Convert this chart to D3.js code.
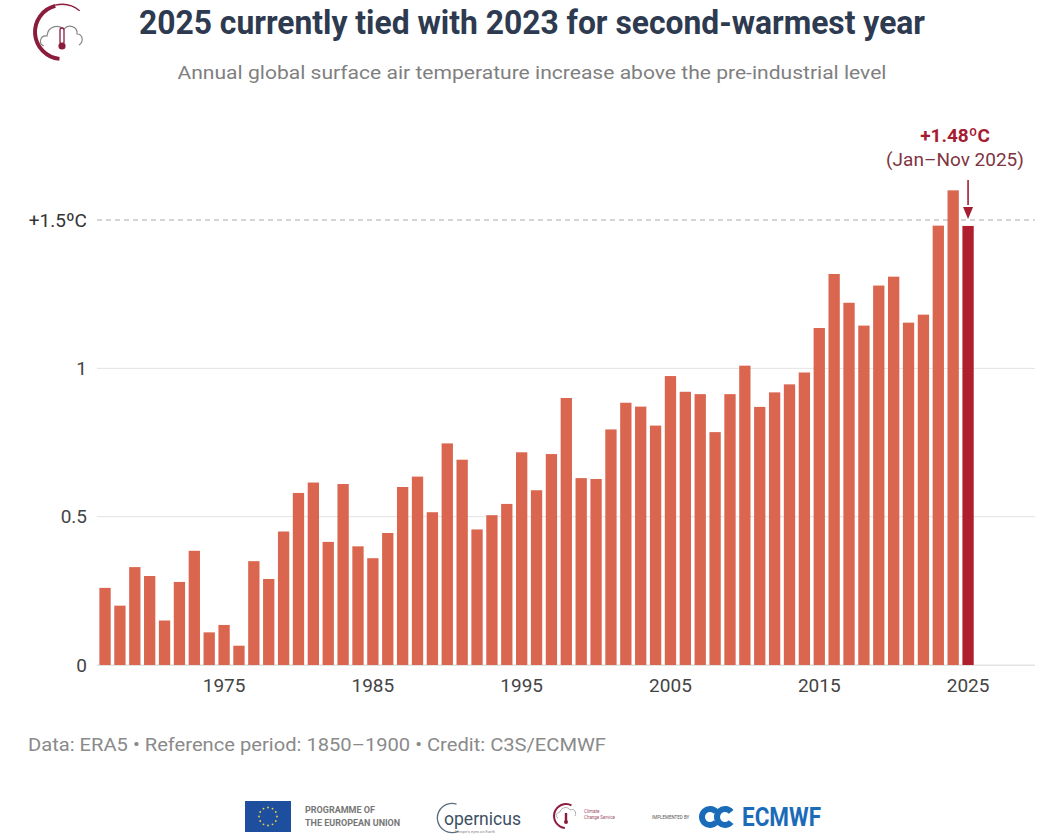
<!DOCTYPE html>
<html>
<head>
<meta charset="utf-8">
<script src="https://cdn.jsdelivr.net/npm/d3@7"></script>
<style>
  body { margin: 0; background: #fff; }
  text { font-family: Roboto, "Noto Sans", sans-serif; }
</style>
</head>
<body>
<div id="chart"></div>
<script>
// data
const years = d3.range(1967, 2026);
const anomalies = [
  0.26, 0.20, 0.33, 0.30, 0.15, 0.28, 0.385, 0.11, 0.135, 0.065,
  0.35, 0.29, 0.45, 0.58, 0.615, 0.415, 0.61, 0.40, 0.36, 0.445,
  0.60, 0.635, 0.515, 0.747, 0.692, 0.457, 0.505, 0.543, 0.717, 0.589,
  0.711, 0.90, 0.63, 0.627, 0.794, 0.884, 0.871, 0.807, 0.974, 0.921,
  0.913, 0.785, 0.913, 1.009, 0.87, 0.919, 0.946, 0.986, 1.136, 1.318,
  1.221, 1.144, 1.279, 1.309, 1.154, 1.181, 1.481, 1.60, 1.48
];
const xTickYears = [1975, 1985, 1995, 2005, 2015, 2025];
const yTicks = [0, 0.5, 1];
const yTickLabels = ["0", "0.5", "1"];
const limitValue = 1.5;
const limitLabel = "+1.5ºC";
const highlightYear = 2025;
const highlightLabel = "+1.48ºC";
const highlightNote = "(Jan\u2013Nov 2025)";

const W = 1063, H = 837;
const plot = { left: 97, right: 1035, top: 200, bottom: 665 };

const svg = d3.select("#chart")
  .append("svg")
  .attr("width", W)
  .attr("height", H);

const data = years.map((y, i) => ({ year: y, value: anomalies[i] }));

// scales
const x = d3.scaleBand()
  .domain(years)
  .range([97.6, 975.5])
  .paddingInner(0.24)
  .paddingOuter(0.12);

const y = d3.scaleLinear()
  .domain([0, 1.5])
  .range([plot.bottom, 220]);

// gridlines
svg.append("g")
  .selectAll("line")
  .data(yTicks)
  .join("line")
  .attr("x1", plot.left)
  .attr("x2", plot.right)
  .attr("y1", d => y(d))
  .attr("y2", d => y(d))
  .attr("stroke", "#e3e3e3")
  .attr("stroke-width", 1);

svg.append("line")
  .attr("x1", plot.left)
  .attr("x2", plot.right)
  .attr("y1", y(limitValue))
  .attr("y2", y(limitValue))
  .attr("stroke", "#aaaaaa")
  .attr("stroke-dasharray", "5,4")
  .attr("stroke-width", 1);

// y labels
svg.append("g")
  .selectAll("text")
  .data(yTicks)
  .join("text")
  .attr("x", 87)
  .attr("y", d => y(d))
  .attr("dy", "0.35em")
  .attr("text-anchor", "end")
  .style("font-size", "19px")
  .style("fill", "#444")
  .text((d, i) => yTickLabels[i]);

svg.append("text")
  .attr("x", 87)
  .attr("y", y(limitValue))
  .attr("dy", "0.35em")
  .attr("text-anchor", "end")
  .style("font-size", "19px")
  .style("fill", "#333")
  .text(limitLabel);

// bars
svg.append("g")
  .selectAll("rect")
  .data(data)
  .join("rect")
  .attr("x", d => x(d.year))
  .attr("y", d => y(d.value))
  .attr("width", x.bandwidth())
  .attr("height", d => y(0) - y(d.value))
  .attr("fill", d => d.year === highlightYear ? "#b01f2e" : "#da6650");

// x axis
const xAxis = svg.append("g")
  .attr("transform", `translate(0,${plot.bottom})`)
  .call(d3.axisBottom(x).tickValues(xTickYears).tickSize(0).tickPadding(14));
xAxis.select(".domain").remove();
xAxis.selectAll("text")
  .style("font-family", "Roboto, sans-serif")
  .style("font-size", "19px")
  .style("fill", "#444");
svg.append("line")
  .attr("x1", plot.left)
  .attr("x2", plot.right)
  .attr("y1", plot.bottom + 0.5)
  .attr("y2", plot.bottom + 0.5)
  .attr("stroke", "#e3e3e3");

// annotation for 2025
const hx = x(highlightYear) + x.bandwidth() / 2;
const hv = anomalies[years.indexOf(highlightYear)];
svg.append("text")
  .attr("x", 955)
  .attr("y", 142)
  .attr("text-anchor", "middle")
  .style("font-size", "19px")
  .style("font-weight", "bold")
  .style("fill", "#a51d30")
  .text(highlightLabel);
svg.append("text")
  .attr("x", 955)
  .attr("y", 166)
  .attr("text-anchor", "middle")
  .style("font-size", "19px")
  .style("fill", "#7e3442")
  .text(highlightNote);
svg.append("line")
  .attr("x1", hx).attr("x2", hx)
  .attr("y1", 180).attr("y2", 205)
  .attr("stroke", "#a51d30")
  .attr("stroke-width", 1.6);
svg.append("path")
  .attr("d", `M${hx - 5},${y(hv) - 19} L${hx + 5},${y(hv) - 19} L${hx},${y(hv) - 7} Z`)
  .attr("fill", "#a51d30");

// title + subtitle
svg.append("text")
  .attr("x", 532)
  .attr("y", 34)
  .attr("text-anchor", "middle")
  .attr("textLength", 786)
  .attr("lengthAdjust", "spacingAndGlyphs")
  .style("font-size", "33px")
  .style("font-weight", "bold")
  .style("fill", "#2d3a50")
  .text("2025 currently tied with 2023 for second-warmest year");

svg.append("text")
  .attr("x", 532)
  .attr("y", 79)
  .attr("text-anchor", "middle")
  .attr("textLength", 709)
  .attr("lengthAdjust", "spacingAndGlyphs")
  .style("font-size", "19px")
  .style("fill", "#7f7f7f")
  .text("Annual global surface air temperature increase above the pre-industrial level");

// footer
svg.append("text")
  .attr("x", 28)
  .attr("y", 751)
  .attr("textLength", 578)
  .attr("lengthAdjust", "spacingAndGlyphs")
  .style("font-size", "18px")
  .style("fill", "#8a8a8a")
  .text("Data: ERA5 \u2022 Reference period: 1850\u20131900 \u2022 Credit: C3S/ECMWF");

// top-left logo (climate change service)
const logo = svg.append("g").attr("transform", "translate(62,32)");
logo.append("path")
  .attr("d", d3.arc().innerRadius(25).outerRadius(29).startAngle(-Math.PI * 0.97).endAngle(-Math.PI * 0.08)())
  .attr("fill", "#8c1c3c");
logo.append("path")
  .attr("d", d3.arc().innerRadius(27).outerRadius(28.3).startAngle(-Math.PI * 0.08).endAngle(Math.PI * 0.22)())
  .attr("fill", "#8c1c3c");
logo.append("path")
  .attr("d", "M-18,14 C-24,12 -22,3 -15,4 C-14,-6 -4,-8 2,-3 C6,-8 16,-6 15,2 C21,2 22,10 17,13")
  .attr("fill", "none")
  .attr("stroke", "#888")
  .attr("stroke-width", 1.2);
logo.append("rect")
  .attr("x", -2).attr("y", -4).attr("width", 4).attr("height", 16).attr("rx", 2)
  .attr("fill", "none").attr("stroke", "#8c1c3c").attr("stroke-width", 1.3);
logo.append("circle").attr("cx", 0).attr("cy", 14).attr("r", 3.6).attr("fill", "#8c1c3c");

// bottom logos
const foot = svg.append("g");
foot.append("rect")
  .attr("x", 245).attr("y", 801).attr("width", 46).attr("height", 31)
  .attr("fill", "#1d4f9e");
foot.append("g")
  .selectAll("circle")
  .data(d3.range(12))
  .join("circle")
  .attr("cx", i => 268 + 9 * Math.cos(i * Math.PI / 6))
  .attr("cy", i => 816.5 + 9 * Math.sin(i * Math.PI / 6))
  .attr("r", 0.9)
  .attr("fill", "#f4d03f");
foot.append("text").attr("x", 305).attr("y", 813)
  .style("font-size", "9px").style("fill", "#777").style("font-weight", "bold")
  .text("PROGRAMME OF");
foot.append("text").attr("x", 305).attr("y", 826)
  .style("font-size", "9px").style("fill", "#777").style("font-weight", "bold")
  .text("THE EUROPEAN UNION");

// copernicus
foot.append("path")
  .attr("d", d3.arc().innerRadius(14).outerRadius(15.3).startAngle(Math.PI * 0.85).endAngle(Math.PI * 2.1)())
  .attr("transform", "translate(452,818)")
  .attr("fill", "#5a6d80");
foot.append("text").attr("x", 444).attr("y", 825)
  .style("font-size", "19px").style("fill", "#3d4f63")
  .attr("textLength", 77).attr("lengthAdjust", "spacingAndGlyphs")
  .text("opernicus");
foot.append("text").attr("x", 455).attr("y", 833)
  .style("font-size", "4px").style("fill", "#888")
  .text("Europe's eyes on Earth");

// climate change service small
const c2 = foot.append("g").attr("transform", "translate(566,816)");
c2.append("path")
  .attr("d", d3.arc().innerRadius(11).outerRadius(13).startAngle(-Math.PI * 0.97).endAngle(Math.PI * 0.15)())
  .attr("fill", "#8c1c3c");
c2.append("path")
  .attr("d", "M-8,2 C-11,1 -10,-4 -6,-4 C-5,-9 2,-10 4,-6 C8,-8 11,-4 9,0")
  .attr("fill", "none").attr("stroke", "#999").attr("stroke-width", 0.8);
c2.append("rect").attr("x", -1.2).attr("y", -3).attr("width", 2.4).attr("height", 8).attr("fill", "#8c1c3c");
c2.append("circle").attr("cx", 0).attr("cy", 6).attr("r", 2).attr("fill", "#8c1c3c");
c2.append("text").attr("x", 18).attr("y", -3).style("font-size", "4.5px").style("fill", "#a0506a").text("Climate");
c2.append("text").attr("x", 18).attr("y", 3).style("font-size", "4.5px").style("fill", "#a0506a").text("Change Service");

// ecmwf
foot.append("text").attr("x", 652).attr("y", 819)
  .style("font-size", "4.5px").style("fill", "#555").text("IMPLEMENTED BY");
const ec = foot.append("g").attr("transform", "translate(710,817)");
const cShape = d3.arc().innerRadius(5).outerRadius(11).startAngle(Math.PI * 0.72).endAngle(Math.PI * 2.28)();
ec.append("path").attr("d", cShape).attr("fill", "#1a6bb8");
ec.append("path").attr("d", cShape).attr("transform", "translate(15,0)").attr("fill", "#1a6bb8");
foot.append("text").attr("x", 742).attr("y", 826)
  .attr("textLength", 79).attr("lengthAdjust", "spacingAndGlyphs")
  .style("font-size", "26px").style("font-weight", "bold").style("fill", "#1a6bb8")
  .text("ECMWF");
</script>
</body>
</html>
